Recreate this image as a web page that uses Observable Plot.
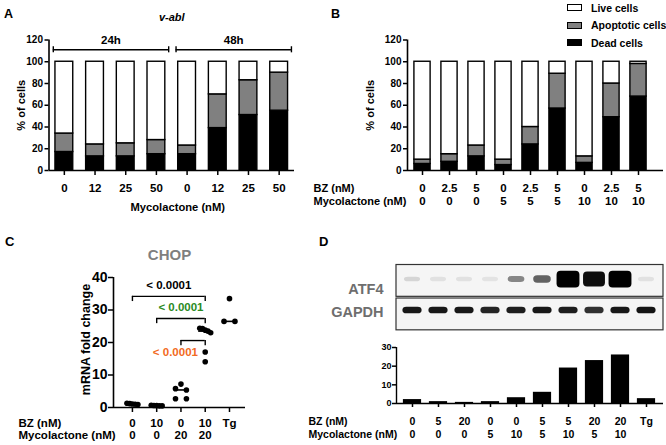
<!DOCTYPE html>
<html>
<head>
<meta charset="utf-8">
<script src="https://cdn.jsdelivr.net/npm/d3@7"></script>
<script src="https://cdn.jsdelivr.net/npm/@observablehq/plot@0.6"></script>
<style>
  body { margin: 0; background: #fff; }
  #fig { position: relative; width: 666px; height: 445px; overflow: hidden; background: #fff;
         font-family: "Liberation Sans", Arial, Helvetica, sans-serif; font-weight: bold; color: #000; }
  .letter { position: absolute; font-size: 12.5px; font-weight: bold; line-height: 1; }
  .leg { position: absolute; font-size: 10.5px; font-weight: bold; line-height: 1; white-space: nowrap; }
  .sw { position: absolute; width: 13px; height: 5px; border: 1.4px solid #000; }
  svg [aria-label="y-axis tick"], svg [aria-label="x-axis tick"] { stroke-width: 1.5px; }
</style>
</head>
<body>
<div id="fig"></div>
<script>
// ---------------- data ----------------
// Panel A (v-abl)
const aTime = ["24h", "24h", "24h", "24h", "48h", "48h", "48h", "48h"];
const aDose = ["0", "12", "25", "50", "0", "12", "25", "50"];
const aDead = [17, 13, 13, 15, 15, 39, 51, 55];
const aApop = [17, 11, 12, 13, 8, 31, 32, 35];
// Panel B
const bBZ = ["0", "2.5", "5", "0", "2.5", "5", "0", "2.5", "5"];
const bMyco = ["0", "0", "0", "5", "5", "5", "10", "10", "10"];
const bDead = [6, 8, 13, 5, 24, 57, 7, 49, 68];
const bApop = [4, 7, 10, 5, 16, 32, 6, 31, 30];
const cellTypes = ["Live cells", "Apoptotic cells", "Dead cells"];
const percentTicks = [0, 20, 40, 60, 80, 100, 120];
// Panel C (CHOP)
const cBZ = ["0", "10", "0", "10", "Tg"];
const cMyco = ["0", "0", "20", "20", ""];
const cValues = [
  [1.3, 1.2, 1.1, 1.0, 0.9],
  [0.7, 0.6, 0.6, 0.5, 0.5],
  [7.2, 5.8, 5.4, 2.7, 2.7],
  [24.4, 24.3, 23.8, 23.5, 23.0, 17.1, 14.1],
  [33.5, 26.5, 26.5]
];
const cTicks = [0, 10, 20, 30, 40];
const cTests = [
  {from: 0, to: 3, p: "< 0.0001"},
  {from: 1, to: 3, p: "< 0.0001"},
  {from: 2, to: 3, p: "< 0.0001"}
];
// Panel D
const dBZ = ["0", "5", "20", "0", "0", "5", "5", "20", "20", "Tg"];
const dMyco = ["0", "0", "0", "5", "10", "5", "10", "5", "10", ""];
const proteins = ["ATF4", "GAPDH"];
const dATF4 = [0.13, 0.08, 0.08, 0.07, 0.45, 0.6, 1, 0.95, 1, 0.08];   // band intensity
const dGAPDH = [0.9, 0.9, 0.9, 0.85, 0.88, 0.9, 0.88, 0.8, 0.9, 0.92];
const dQuant = [2.1, 1.0, 0.6, 1.0, 3.1, 6.0, 19, 23, 26, 2.6];
const dTicks = [0, 10, 20, 30];

// ---------------- styles / layout ----------------
const FONT = '"Liberation Sans", Arial, Helvetica, sans-serif';
const cellColors = ["#ffffff", "#808080", "#000000"];
const testColors = ["#000000", "#2a8a1f", "#f26a22"];
const fig = document.getElementById("fig");

function put(node, left, top) {
  node.style.position = "absolute";
  node.style.left = left + "px";
  node.style.top = top + "px";
  fig.appendChild(node);
  return node;
}
function baseStyle(size) {
  return {fontFamily: FONT, fontWeight: "bold", fontSize: size + "px", background: "transparent",
          color: "#000", overflow: "visible"};
}
function stack(dead, apop) {
  return dead.flatMap((d, i) => [
    {i, type: "Dead cells", y1: 0, y2: d},
    {i, type: "Apoptotic cells", y1: d, y2: d + apop[i]},
    {i, type: "Live cells", y1: d + apop[i], y2: 100}
  ]);
}
function letter(t, left, top, size) {
  const el = document.createElement("div");
  el.className = "letter";
  el.textContent = t;
  if (size) el.style.fontSize = size + "px";
  put(el, left, top);
}
const M = {lineAnchor: "middle"};

// ---------------- Panel A ----------------
const aIdx = d3.range(aDose.length);
const aDom = [-0.5, aDose.length - 0.5];
const aBrackets = d3.groups(aIdx, i => aTime[i]).map(([label, idx]) => ({
  label, x1: d3.min(idx) - 0.36, x2: d3.max(idx) + 0.4, xm: (d3.min(idx) + d3.max(idx)) / 2 + 0.02
}));
const bracketLevel = 111;
const plotA = Plot.plot({
  width: 305, height: 215, marginLeft: 48.5, marginRight: 11, marginTop: 39.5, marginBottom: 45,
  style: baseStyle(10),
  x: {domain: aDom, ticks: aIdx, tickFormat: () => "", tickSize: 5, label: null},
  y: {domain: [0, 120], ticks: percentTicks, tickSize: 4, tickPadding: 2, label: null},
  color: {domain: cellTypes, range: cellColors},
  marks: [
    Plot.rect(stack(aDead, aApop), {x1: d => d.i - 0.29, x2: d => d.i + 0.29, y1: "y1", y2: "y2",
      fill: "type", stroke: "#000", strokeWidth: 1.4}),
    Plot.ruleY([0], {strokeWidth: 1.6}),
    Plot.ruleX([aDom[0]], {strokeWidth: 1.6}),
    Plot.ruleY(aBrackets, {y: () => bracketLevel, x1: "x1", x2: "x2", strokeWidth: 1.4}),
    Plot.ruleX(aBrackets.flatMap(b => [b.x1, b.x2]), {x: d => d, y1: () => bracketLevel - 2.8,
      y2: () => bracketLevel + 2.8, strokeWidth: 1.4}),
    Plot.text(aBrackets, {x: "xm", y: () => bracketLevel, text: "label", dy: -9, fontSize: 11.5, ...M}),
    Plot.text(aIdx, {x: d => d, text: i => aDose[i], frameAnchor: "bottom", dy: 18, fontSize: 11.5, ...M}),
    Plot.text(["Mycolactone (nM)"], {text: d => d, frameAnchor: "bottom", dx: 6, dy: 37, fontSize: 11.2, ...M}),
    Plot.text(["% of cells"], {text: d => d, frameAnchor: "left", textAnchor: "middle", rotate: -90, dx: -28, fontSize: 11, ...M}),
    Plot.text(["v-abl"], {text: d => d, frameAnchor: "top", dy: -22.5, fontSize: 11, fontStyle: "italic", ...M})
  ]
});
put(plotA, 0, 0);
letter("A", 4, 8);

// ---------------- Panel B ----------------
const bIdx = d3.range(bBZ.length);
const bDom = [-0.556, 8.926];
const plotB = Plot.plot({
  width: 361, height: 215, marginLeft: 102, marginRight: 3, marginTop: 39.5, marginBottom: 45,
  style: baseStyle(10),
  x: {domain: bDom, ticks: bIdx, tickFormat: () => "", tickSize: 5, label: null},
  y: {domain: [0, 120], ticks: percentTicks, tickSize: 4, tickPadding: 2, label: null},
  color: {domain: cellTypes, range: cellColors},
  marks: [
    Plot.rect(stack(bDead, bApop), {x1: d => d.i - 0.3, x2: d => d.i + 0.3, y1: "y1", y2: "y2",
      fill: "type", stroke: "#000", strokeWidth: 1.4}),
    Plot.ruleY([0], {strokeWidth: 1.6}),
    Plot.ruleX([bDom[0]], {strokeWidth: 1.6}),
    Plot.text(bIdx, {x: d => d, text: i => bBZ[i], frameAnchor: "bottom", dy: 18, fontSize: 11.5, ...M}),
    Plot.text(bIdx, {x: d => d, text: i => bMyco[i], frameAnchor: "bottom", dy: 31, fontSize: 11.5, ...M}),
    Plot.text(["BZ (nM)"], {text: d => d, frameAnchor: "bottom-left", textAnchor: "start", dx: -94, dy: 18, fontSize: 11, ...M}),
    Plot.text(["Mycolactone (nM)"], {text: d => d, frameAnchor: "bottom-left", textAnchor: "start", dx: -94, dy: 31, fontSize: 11, ...M}),
    Plot.text(["% of cells"], {text: d => d, frameAnchor: "left", textAnchor: "middle", rotate: -90, dx: -37, fontSize: 11, ...M})
  ]
});
put(plotB, 305, 0);
letter("B", 331, 8);

// legend for A/B
cellTypes.forEach((t, k) => {
  const sw = document.createElement("div");
  sw.className = "sw";
  sw.style.background = cellColors[k];
  put(sw, 567, 4 + k * 17.5);
  const lab = document.createElement("div");
  lab.className = "leg";
  lab.textContent = t;
  put(lab, 591, 2.5 + k * 17.5);
});

// ---------------- Panel C ----------------
const cIdx = d3.range(cBZ.length);
const cDom = [-0.78, 4.66];
const cPoints = [];
cValues.forEach((vals, g) => {
  const sorted = vals.slice().sort((a, b) => b - a);
  const rows = [];
  for (const v of sorted) {
    const last = rows[rows.length - 1];
    if (last && Math.abs(last[last.length - 1] - v) <= 1.0) last.push(v); else rows.push([v]);
  }
  for (const row of rows) {
    const n = row.length;
    row.forEach((v, k) => cPoints.push({g, v, off: n === 1 ? 0 : (k / (n - 1) - 0.5) * 0.45}));
  }
});
const cMedians = cValues.map((vals, g) => ({g, m: d3.median(vals)}));
const testLevels = [34.2, 27.4, 20.6];
const cBrackets = cTests.map((t, k) => ({...t, y: testLevels[k], color: testColors[k]}));
const plotC = Plot.plot({
  width: 305, height: 230, marginLeft: 113, marginRight: 60, marginTop: 62, marginBottom: 38,
  style: baseStyle(14),
  x: {domain: cDom, ticks: cIdx, tickFormat: () => "", tickSize: 5, label: null},
  y: {domain: [0, 40], ticks: cTicks, tickSize: 5, tickPadding: 1, label: null},
  marks: [
    Plot.ruleY([0], {strokeWidth: 1.6}),
    Plot.ruleX([cDom[0]], {strokeWidth: 1.6}),
    Plot.ruleY(cMedians, {y: "m", x1: d => d.g - 0.27, x2: d => d.g + 0.27, strokeWidth: 1.6}),
    Plot.dot(cPoints, {x: d => d.g + d.off, y: "v", r: 2.8, fill: "#000"}),
    Plot.ruleY(cBrackets, {y: "y", x1: "from", x2: "to", strokeWidth: 1.4}),
    Plot.ruleX(cBrackets.flatMap(b => [{x: b.from, y: b.y}, {x: b.to, y: b.y}]),
      {x: "x", y1: "y", y2: d => d.y - 1.6, strokeWidth: 1.4}),
    Plot.text(cBrackets.filter(b => b.to - b.from > 1), {x: d => (d.from + d.to) / 2, y: d => d.y + 3.4,
      text: "p", fill: "color", fontSize: 11.5, ...M}),
    Plot.text(cBrackets.filter(b => b.to - b.from === 1), {x: d => d.to - 0.3, y: d => d.y - 3.7,
      text: "p", fill: "color", textAnchor: "end", fontSize: 11.5, ...M}),
    Plot.text(cIdx, {x: d => d, text: i => cBZ[i], frameAnchor: "bottom", dy: 16, fontSize: 11.5, ...M}),
    Plot.text(cIdx, {x: d => d, text: i => cMyco[i], frameAnchor: "bottom", dy: 28, fontSize: 11.5, ...M}),
    Plot.text(["BZ (nM)"], {text: d => d, frameAnchor: "bottom-left", textAnchor: "start", dx: -95, dy: 16, fontSize: 11.5, ...M}),
    Plot.text(["Mycolactone (nM)"], {text: d => d, frameAnchor: "bottom-left", textAnchor: "start", dx: -95, dy: 28, fontSize: 11.5, ...M}),
    Plot.text(["mRNA fold change"], {text: d => d, x: () => cDom[0], y: () => 20, textAnchor: "middle", rotate: -90, dx: -28, dy: -3, fontSize: 12.5, ...M}),
    Plot.text(["CHOP"], {text: d => d, frameAnchor: "top", dx: -10, dy: -22, fontSize: 15, fill: "#7f7f7f", ...M})
  ]
});
put(plotC, 0, 215);
letter("C", 5, 235, 13);

// ---------------- Panel D: blot ----------------
const dIdx = d3.range(dBZ.length);
const dDom = [-0.615, 9.654];
const rowBase = {ATF4: 1, GAPDH: 0};
const bandCenter = {ATF4: 1.552, GAPDH: 0.627};
const labelPos = {ATF4: 1.27, GAPDH: 0.57};
const blotRows = proteins.flatMap(p => (p === "ATF4" ? dATF4 : dGAPDH).map((v, i) => ({i, p, v})));
const halfH = d => d.p === "ATF4" ? 0.07 + 0.18 * d.v ** 3 : 0.1;
const halfW = d => d.p === "ATF4" ? 0.31 + 0.13 * d.v ** 3 : 0.37;
const plotBlot = Plot.plot({
  width: 361, height: 80, marginLeft: 91, marginRight: 3, marginTop: 9, marginBottom: 4,
  style: baseStyle(14),
  x: {domain: dDom, axis: null},
  y: {domain: [0, 2], axis: null},
  marks: [
    Plot.rect(proteins, {x1: () => dDom[0], x2: () => dDom[1], y1: p => rowBase[p] + 0.035,
      y2: p => rowBase[p] + 0.985, fill: "#f5f5f5", stroke: "#333", strokeWidth: 1.2}),
    Plot.rect(blotRows, {x1: d => d.i - halfW(d), x2: d => d.i + halfW(d),
      y1: d => bandCenter[d.p] - halfH(d), y2: d => bandCenter[d.p] + halfH(d),
      fill: "#000", fillOpacity: d => d.v, rx: 4, ariaLabel: "bands"}),
    Plot.text(proteins, {frameAnchor: "left", y: p => labelPos[p], text: p => p, textAnchor: "end",
      dx: -13, fontSize: 14.5, fill: "#6e6e6e", ...M})
  ]
});
d3.select(plotBlot).selectAll('g[aria-label="bands"]').style("filter", "blur(1.2px)");
put(plotBlot, 305, 255);

// ---------------- Panel D: quantification ----------------
const plotD = Plot.plot({
  width: 361, height: 110, marginLeft: 91, marginRight: 3, marginTop: 12, marginBottom: 42,
  style: baseStyle(9),
  x: {domain: dDom, ticks: dIdx, tickFormat: () => "", tickSize: 4, label: null},
  y: {domain: [0, 30], ticks: dTicks, tickSize: 4, tickPadding: 1, label: null},
  marks: [
    Plot.rect(dIdx, {x1: i => i - 0.35, x2: i => i + 0.35, y1: () => 0, y2: i => dQuant[i], fill: "#000"}),
    Plot.ruleY([0], {strokeWidth: 1.4}),
    Plot.ruleX([dDom[0]], {strokeWidth: 1.4}),
    Plot.text(dIdx, {x: d => d, text: i => dBZ[i], frameAnchor: "bottom", dy: 18, fontSize: 10.5, ...M}),
    Plot.text(dIdx, {x: d => d, text: i => dMyco[i], frameAnchor: "bottom", dy: 31, fontSize: 10.5, ...M}),
    Plot.text(["BZ (nM)"], {text: d => d, frameAnchor: "bottom-left", textAnchor: "start", dx: -88, dy: 18, fontSize: 10.5, ...M}),
    Plot.text(["Mycolactone (nM)"], {text: d => d, frameAnchor: "bottom-left", textAnchor: "start", dx: -88, dy: 31, fontSize: 10.5, ...M})
  ]
});
put(plotD, 305, 335);
letter("D", 319, 235, 13);
</script>
</body>
</html>
